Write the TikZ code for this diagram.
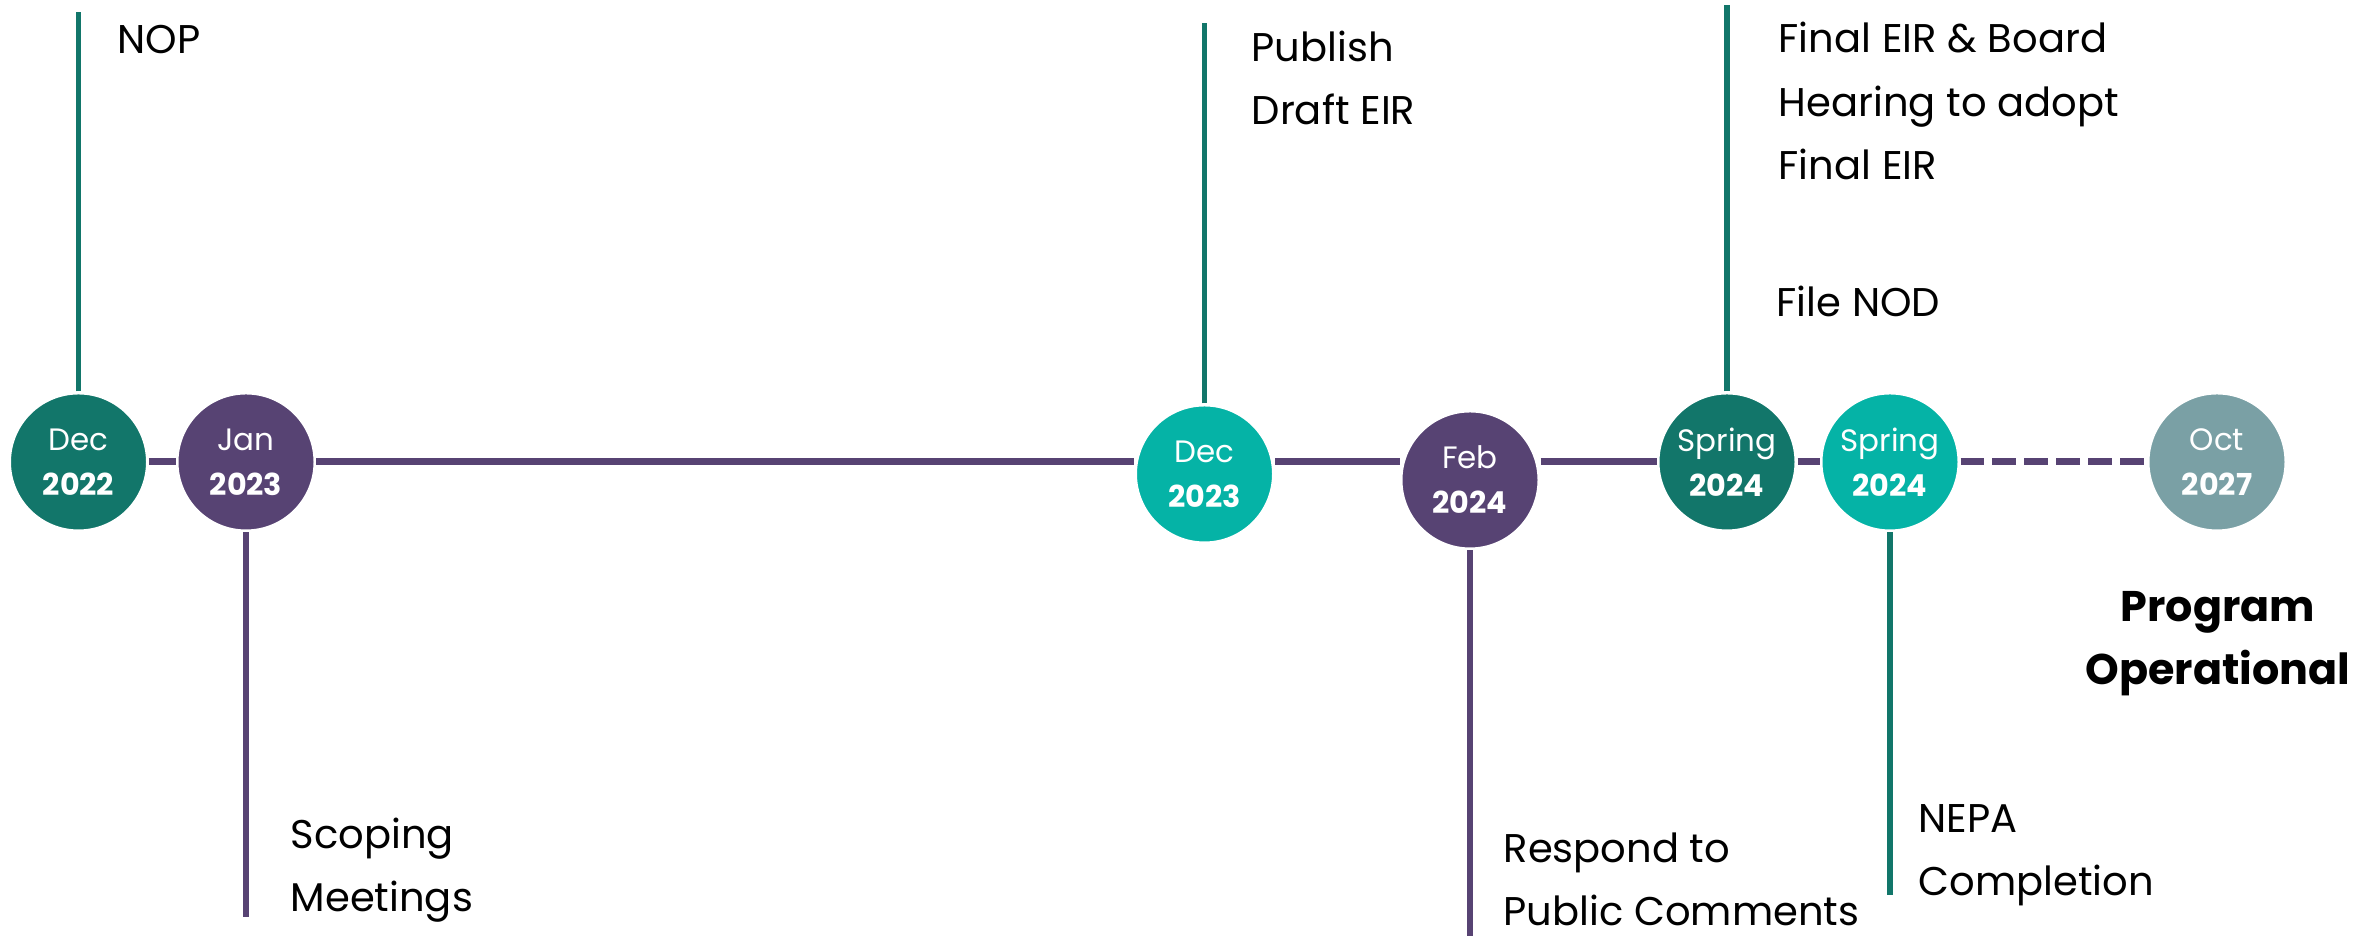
\documentclass[tikz,border=0pt]{standalone}
\usepackage{fontspec}
\setmainfont{Poppins}
\definecolor{tealdark}{RGB}{18,118,106}
\definecolor{tealbright}{RGB}{5,179,166}
\definecolor{plum}{RGB}{87,67,115}
\definecolor{slate}{RGB}{122,160,165}
\tikzset{
	date/.style={circle,fill=#1,draw=white,line width=0.85pt,minimum size=1.38cm,inner sep=0,text=white,align=center,font=\fontsize{8.8}{12.8}\selectfont,execute at begin node={\rule{0pt}{10pt}}},
	tl/.style={plum,line width=2pt},
	stem/.style={line width=1.7pt},
	note/.style={anchor=base west,align=left,inner sep=0,font=\fontsize{11.4}{18.2}\selectfont}
}
\begin{document}
\begin{tikzpicture}
	\useasboundingbox (0,0) rectangle (23.77,9.36);
	\node[date=tealdark] (1) at (0.785,4.74) {Dec\\\textbf{\fontsize{8.6}{12.8}\selectfont 2022}};
	\node[date=plum] (2) at (2.46,4.74) {Jan\\\textbf{\fontsize{8.6}{12.8}\selectfont 2023}};
	\node[date=tealbright] (3) at (12.045,4.62) {Dec\\\textbf{\fontsize{8.6}{12.8}\selectfont 2023}};
	\node[date=plum] (4) at (14.70,4.56) {Feb\\\textbf{\fontsize{8.6}{12.8}\selectfont 2024}};
	\node[date=tealdark] (5) at (17.27,4.74) {Spring\\\textbf{\fontsize{8.6}{12.8}\selectfont 2024}};
	\node[date=tealbright] (6) at (18.90,4.74) {Spring\\\textbf{\fontsize{8.6}{12.8}\selectfont 2024}};
	\node[date=slate] (7) at (22.17,4.74) {Oct\\\textbf{\fontsize{8.6}{12.8}\selectfont 2027}};
	\coordinate (1t) at (0.785,9.24);
	\coordinate (2b) at (2.46,0.19);
	\coordinate (3t) at (12.045,9.13);
	\coordinate (4b) at (14.70,0);
	\coordinate (5t) at (17.27,9.31);
	\coordinate (6b) at (18.90,0.41);
	\draw[tl] (1) -- (2);
	\draw[tl] (2) -- (2 -| 3.west);
	\draw[tl] (3.east |- 2) -- (4.west |- 2);
	\draw[tl] (4.east |- 2) -- (5);
	\draw[tl] (5) -- (6);
	\draw[tl,dash pattern=on 6.8pt off 2.3pt] (6) -- (7);
	\draw[stem,tealdark] (1) -- (1t);
	\draw[stem,plum] (2) -- (2b);
	\draw[stem,tealdark] (3) -- (3t);
	\draw[stem,plum] (4) -- (4b);
	\draw[stem,tealdark] (5) -- (5t);
	\draw[stem,tealdark] (6) -- (6b);
	\node[note] (1n) at (1.17,8.82) {NOP};
	\node[note] (2n) at (2.90,0.24) {Scoping\\Meetings};
	\node[note] (3n) at (12.51,8.11) {Publish\\Draft EIR};
	\node[note] (4n) at (15.03,0.10) {Respond to\\Public Comments};
	\node[note] (5n) at (17.78,7.56) {Final EIR \& Board\\Hearing to adopt\\Final EIR};
	\node[note] (5m) at (17.76,6.19) {File NOD};
	\node[note] (6n) at (19.18,0.40) {NEPA\\Completion};
	\node[anchor=base,align=center,inner sep=0,font=\bfseries\fontsize{12.2}{18}\selectfont] (7n) at (22.18,2.51) {Program\\Operational};
\end{tikzpicture}
\end{document}
